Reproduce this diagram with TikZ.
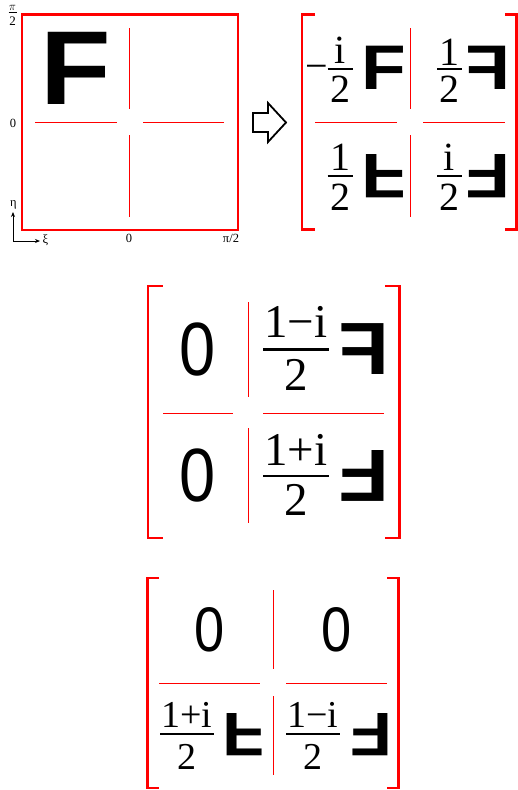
\documentclass[tikz,border=0pt]{standalone}
\usepackage{fontspec}
\setmainfont{Liberation Serif}
\newfontfamily\gfont{Liberation Sans}
\usetikzlibrary{arrows.meta}
\tikzset{
  frame/.style={red, line width=2.5},
  thinred/.style={red, line width=1},
  brk/.style={red, line width=2.5},
  glyph/.style={inner sep=0, font=\gfont\bfseries\fontsize{#1}{#1}\selectfont, transform shape},
  zero/.style={inner sep=0, font=\gfont\fontsize{#1}{#1}\selectfont},
  lab/.style={inner sep=0, font=\fontsize{12.5}{12.5}\selectfont},
  msz/.style={font=\fontsize{#1}{#1}\selectfont},
  pics/fr/.style n args={5}{code={
    \node[inner sep=0, anchor=base] (-n) at (0,-#3) {#1};
    \node[inner sep=0, anchor=base] (-d) at (0,#4) {#2};
    \draw (-#5,0) -- (#5,0);
  }},
}
\begin{document}
\begin{tikzpicture}[x=1pt, y=-1pt]
\useasboundingbox (0,0) rectangle (518,790);

% ---------- panel 1 ----------
\draw[frame] (22,14.5) rectangle (238,230);
\draw[thinred] (35,122) -- (117,122);
\draw[thinred] (143,122) -- (224,122);
\draw[thinred] (129,28) -- (129,109);
\draw[thinred] (129,135) -- (129,217);
\node[glyph=105, xscale=1.1] (bigF) at (75.5,68.5) {F};

\pic[font=\fontsize{13}{13}\selectfont, line width=0.6] (ltop) at (12.5,12.7) {fr={$\pi$}{2}{2.5}{13}{4}};
\node[lab] (lzero) at (13,123.5) {0};
\node[lab] (leta) at (13.5,205) {η};
\node[lab] (lxi) at (45.5,240) {ξ};
\node[lab] (bzero) at (129,238) {0};
\node[lab] (bpi) at (231,238) {π/2};
\coordinate (orig) at (13,241);
\coordinate (yend) at (13,212);
\coordinate (xend) at (40,241);
\draw[line width=1, -{Stealth[length=5pt,width=4pt]}] (orig) -- (yend);
\draw[line width=1, -{Stealth[length=5pt,width=4pt]}] (orig) -- (xend);

% hollow arrow
\draw[line width=1.8, line join=miter] (253,113) -- (268,113) -- (268,103) -- (286,122.5)
  -- (268,142) -- (268,132) -- (253,132) -- cycle;

% ---------- matrix 1 ----------
\draw[brk] (315,14.5) -- (302,14.5) -- (302,229.5) -- (315,229.5);
\draw[brk] (505,14.5) -- (516.5,14.5) -- (516.5,229.5) -- (505,229.5);
\draw[thinred] (315,122) -- (397,122);
\draw[thinred] (423,122) -- (505,122);
\draw[thinred] (410,28) -- (410,109);
\draw[thinred] (410,135) -- (410,217);

\node[msz=40, inner sep=0, anchor=base] (m1minus) at (316.5,79) {−};
\pic[msz=40, line width=2] (a1) at (340,68.5) {fr={i}{2}{5}{33.5}{12.5}};
\pic[msz=40, line width=2] (a2) at (449.5,68.5) {fr={1}{2}{3.5}{33.5}{12.5}};
\pic[msz=40, line width=2] (a3) at (340,175.5) {fr={1}{2}{5.5}{34.5}{12.5}};
\pic[msz=40, line width=2] (a4) at (449.5,175.5) {fr={i}{2}{5.5}{34.5}{12.5}};
\node[glyph=63, xscale=1.16] (g1) at (383.5,67.5) {F};
\node[glyph=63, xscale=-1.16] (g2) at (488.5,67.5) {F};
\node[glyph=63, xscale=1.16, yscale=-1] (g3) at (384,176) {F};
\node[glyph=63, xscale=-1.16, yscale=-1] (g4) at (488.5,176) {F};

% ---------- matrix 2 ----------
\draw[brk] (162.5,286) -- (148,286) -- (148,538) -- (162.5,538);
\draw[brk] (385,286) -- (399.5,286) -- (399.5,538) -- (385,538);
\draw[thinred] (163,413) -- (233,413);
\draw[thinred] (263,413) -- (384,413);
\draw[thinred] (248,302) -- (248,397);
\draw[thinred] (248,428) -- (248,523);

\node[zero=75.5, xscale=0.86] (z1) at (198,350) {0};
\node[zero=75.5, xscale=0.86] (z2) at (198,475.5) {0};
\pic[msz=47, line width=2.5] (b1) at (296,349.5) {fr={1−i}{2}{12.5}{40.5}{33}};
\pic[msz=47, line width=2.5] (b2) at (296,476) {fr={1+i}{2}{11}{39}{33}};
\node[glyph=74, xscale=-1.12] (h1) at (364.5,349.5) {F};
\node[glyph=74, xscale=-1.12, yscale=-1] (h2) at (364.5,475.5) {F};

% ---------- matrix 3 ----------
\draw[brk] (159,578) -- (147.5,578) -- (147.5,788) -- (159,788);
\draw[brk] (387,578) -- (398.5,578) -- (398.5,788) -- (387,788);
\draw[thinred] (159,683) -- (260,683);
\draw[thinred] (286,683) -- (387,683);
\draw[thinred] (273,590) -- (273,669);
\draw[thinred] (273,696) -- (273,775);

\node[zero=63, xscale=0.86] (z3) at (209.5,630) {0};
\node[zero=63, xscale=0.86] (z4) at (337,630) {0};
\pic[msz=38, line width=2.2] (c1) at (187,734) {fr={1+i}{2}{7}{35}{27}};
\pic[msz=38, line width=2.2] (c2) at (313,734) {fr={1−i}{2}{7}{35}{27}};
\node[glyph=61.5, xscale=1.12, yscale=-1] (k1) at (244,735) {F};
\node[glyph=61.5, xscale=-1.12, yscale=-1] (k2) at (371,735) {F};
\end{tikzpicture}
\end{document}
